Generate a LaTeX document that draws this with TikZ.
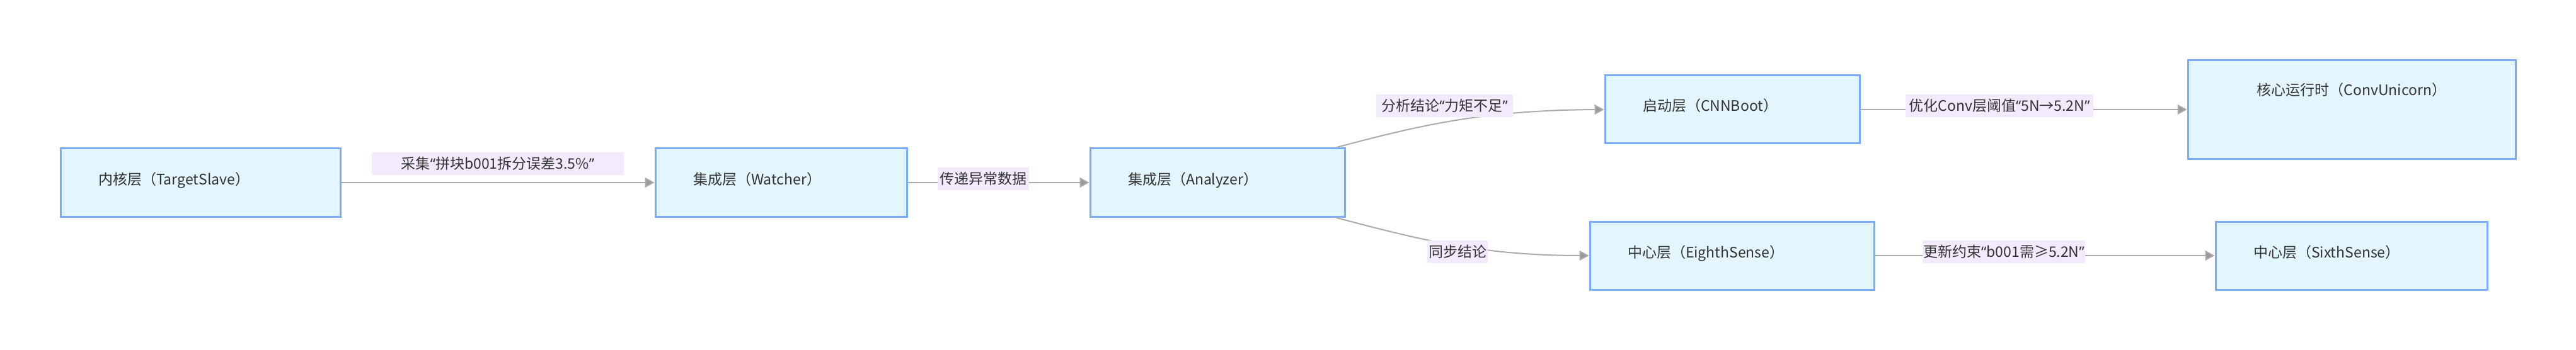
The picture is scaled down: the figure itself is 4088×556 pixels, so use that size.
\documentclass[tikz,border=0pt]{standalone}
\usepackage{fontspec}
\newfontfamily\cjkfont{Noto Sans CJK SC}
\newfontfamily\latinfont{Noto Sans}
\newcommand{\openq}{{\latinfont “}}
\newcommand{\closeq}{{\latinfont ”}}
\usetikzlibrary{arrows.meta}

\definecolor{layerfill}{HTML}{E3F5FD}
\definecolor{layerline}{HTML}{7BAAF7}
\definecolor{labelfill}{HTML}{F3EBFD}
\definecolor{textgray}{HTML}{333333}
\definecolor{flowgray}{HTML}{ABABAB}
\definecolor{tipgray}{HTML}{999999}

\begin{document}
\begin{tikzpicture}[x=1pt, y=-1pt,
    layer/.style={draw=layerline, fill=layerfill, line width=3pt, inner ysep=0pt, inner xsep=60pt,
        text height=57pt, text depth=51pt, align=left, text=textgray,
        font=\cjkfont\fontsize{23pt}{28pt}\selectfont},
    flow/.style={draw=flowgray, line width=2pt, -{Triangle[length=15pt, width=16pt, fill=tipgray]}},
    flowlabel/.style={fill=labelfill, inner sep=0pt, minimum height=36pt, text=textgray,
        font=\cjkfont\fontsize{23pt}{28pt}\selectfont}]
    \useasboundingbox (0,0) rectangle (4088,556);

    % Define layer boxes (left to right)
    \node[layer, text width=324pt] (TargetSlave) at (318, 290) {内核层（TargetSlave）};
    \node[layer, text width=279pt] (Watcher) at (1239.5, 290) {集成层（Watcher）};
    \node[layer, text width=284pt] (Analyzer) at (1932, 290) {集成层（Analyzer）};
    \node[layer, text width=284pt] (CNNBoot) at (2749, 174) {启动层（CNNBoot）};
    \node[layer, text width=331pt] (EighthSense) at (2748.5, 406) {中心层（EighthSense）};
    \node[layer, text width=480pt, inner xsep=20pt, align=center, text height=56pt, text depth=100pt] (ConvUnicorn) at (3732, 174) {核心运行时（ConvUnicorn）};
    \node[layer, text width=311pt] (SixthSense) at (3731.5, 406) {中心层（SixthSense）};

    % Draw edges
    \draw[flow] (TargetSlave) -- (Watcher);
    \draw[flow] (Watcher) -- (Analyzer);
    \draw[flow] ([xshift=-16pt]Analyzer.north east) .. controls (2250, 200) and (2350, 175) .. (CNNBoot.west);
    \draw[flow] ([xshift=-16pt]Analyzer.south east) .. controls (2250, 380) and (2350, 406) .. (EighthSense.west);
    \draw[flow] (CNNBoot) -- (ConvUnicorn);
    \draw[flow] (EighthSense) -- (SixthSense);

    % Edge labels
    \node[flowlabel, minimum width=400pt] (collect) at (790, 260) {采集\openq 拼块b001拆分误差3.5\%\closeq};
    \node[flowlabel, minimum width=145pt] (pass) at (1560.5, 284) {传递异常数据};
    \node[flowlabel, minimum width=217pt] (verdict) at (2292.5, 168) {分析结论\openq 力矩不足\closeq};
    \node[flowlabel, minimum width=96pt] (sync) at (2313, 400) {同步结论};
    \node[flowlabel, minimum width=298pt] (tune) at (3173, 168) {优化Conv层阈值\openq 5N→5.2N\closeq};
    \node[flowlabel, minimum width=258pt] (update) at (3180, 400) {更新约束\openq b001需≥5.2N\closeq};
\end{tikzpicture}
\end{document}
